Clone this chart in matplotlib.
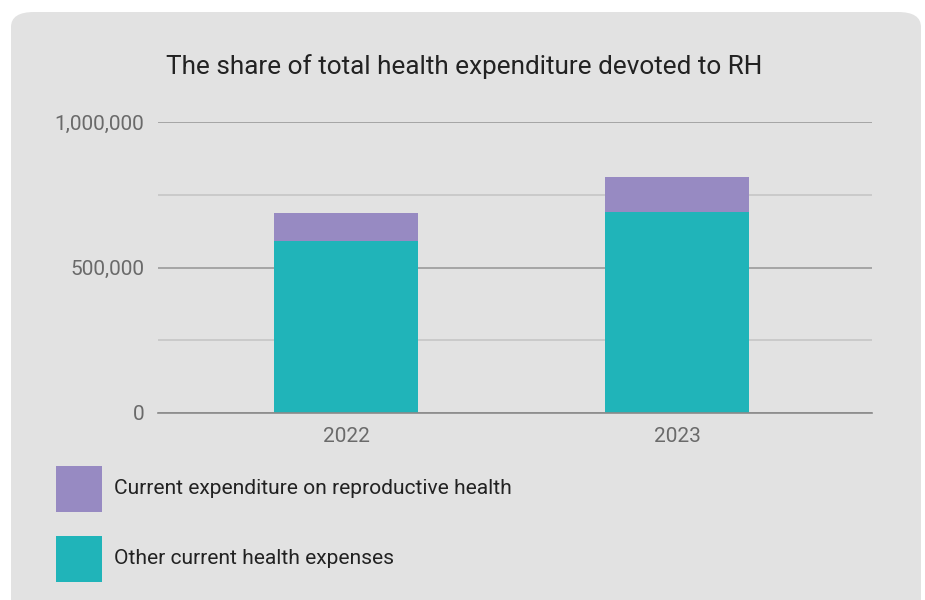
import matplotlib.pyplot as plt
from matplotlib.patches import FancyBboxPatch, Rectangle
from matplotlib.ticker import FuncFormatter
import numpy as np

years = ['2022', '2023']
other_expenses = [591000, 692000]
rh_expenses = [96000, 119000]
series_labels = ['Current expenditure on reproductive health', 'Other current health expenses']
series_colors = ['#978ac2', '#20b4b9']

plt.rcParams['font.family'] = ['Roboto', 'DejaVu Sans']

W, H = 925, 600
fig = plt.figure(figsize=(W / 100, H / 100), dpi=100)
fig.patch.set_facecolor('white')

# grey rounded panel behind everything
panel = FancyBboxPatch((11 / W, -0.05), 910 / W, (600 - 12) / H + 0.05,
                       boxstyle='round,pad=0,rounding_size=0.025',
                       transform=fig.transFigure, facecolor='#e2e2e2',
                       edgecolor='none', zorder=-10)
fig.patches.append(panel)

ax = fig.add_axes([158 / W, (H - 413) / H, (872 - 158) / W, (413 - 122) / H])
ax.set_facecolor('none')
ax.set_zorder(5)

x = np.arange(len(years))
ax.bar(x, other_expenses, width=0.435, color=series_colors[1], zorder=3)
ax.bar(x, rh_expenses, bottom=other_expenses, width=0.435, color=series_colors[0], zorder=3)

ax.set_xlim(-0.568, 1.589)
ax.set_ylim(0, 1000000)
ax.set_xticks(x)
ax.set_xticklabels(years)
ax.set_yticks([0, 500000, 1000000])
ax.set_yticks([250000, 750000], minor=True)
ax.yaxis.set_major_formatter(FuncFormatter(lambda v, p: f'{int(v):,}'))

ax.grid(axis='y', which='major', color='#9a9a9a', linewidth=1.2, zorder=1)
ax.grid(axis='y', which='minor', color='#c6c6c6', linewidth=1.2, zorder=1)
ax.set_axisbelow(True)
for s in ['top', 'right', 'left']:
    ax.spines[s].set_visible(False)
ax.spines['bottom'].set_color('#8a8a8a')
ax.spines['bottom'].set_linewidth(1.2)
ax.spines['bottom'].set_zorder(4)

ax.tick_params(axis='both', which='both', length=0, labelsize=15, labelcolor='#6a6a6a')
ax.tick_params(axis='y', pad=10)
ax.tick_params(axis='x', pad=10)

fig.text(464 / W, (H - 67) / H, 'The share of total health expenditure devoted to RH',
         ha='center', va='center', fontsize=18.8, color='#222222')

# legend boxes
for i, (lab, col) in enumerate(zip(series_labels, series_colors)):
    y_top = 466 + i * 70
    fig.patches.append(Rectangle((56 / W, (H - y_top - 46) / H), 46 / W, 46 / H,
                                 transform=fig.transFigure, facecolor=col,
                                 edgecolor='none', zorder=2))
    fig.text(114 / W, (H - y_top - 22) / H, lab, ha='left', va='center',
             fontsize=15.1, color='#222222')

fig.savefig('out.png', dpi=100, facecolor=fig.get_facecolor())
